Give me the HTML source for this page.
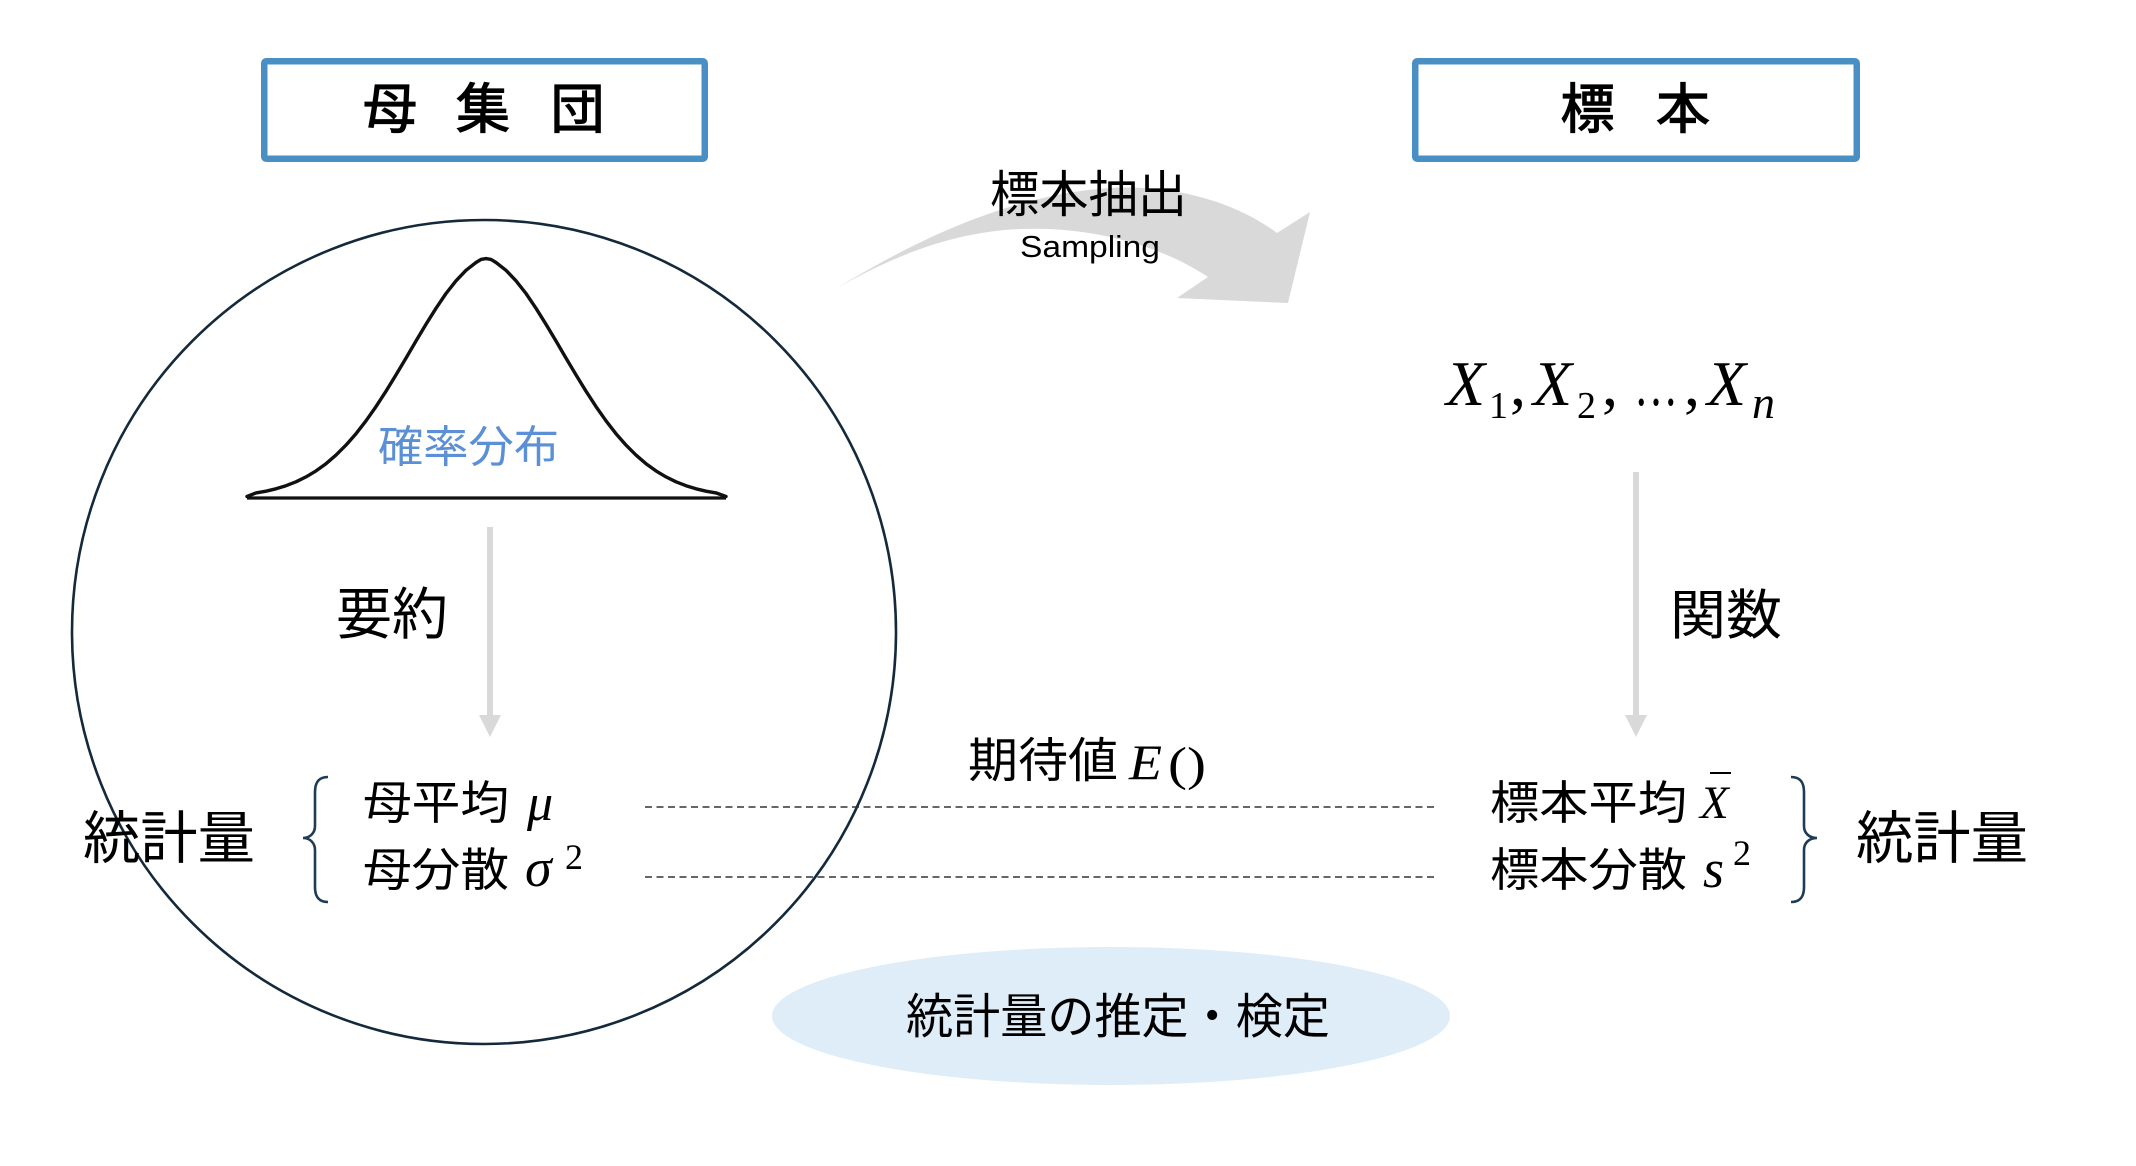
<!DOCTYPE html>
<html>
<head>
<meta charset="utf-8">
<style>
html,body{margin:0;padding:0;background:#fff;}
svg{display:block;}
.cjk{font-family:"Liberation Sans","Noto Sans CJK JP",sans-serif;fill:#000;}
.mi{font-family:"Liberation Serif","DejaVu Serif",serif;font-style:italic;fill:#000;}
.mr{font-family:"Liberation Serif","DejaVu Serif",serif;fill:#000;}
</style>
</head>
<body>
<svg width="2136" height="1166" viewBox="0 0 2136 1166" xmlns="http://www.w3.org/2000/svg">
  <rect x="0" y="0" width="2136" height="1166" fill="#fff"/>

  <!-- Title boxes -->
  <rect x="264.25" y="61.25" width="440.5" height="97.5" rx="2" fill="#fff" stroke="#4a8fc4" stroke-width="6.5"/>
  <rect x="1415.25" y="61.25" width="441.5" height="97.5" rx="2" fill="#fff" stroke="#4a8fc4" stroke-width="6.5"/>
  <g class="cjk" font-size="54" font-weight="normal" text-anchor="middle" stroke="#000" stroke-width="1.2">
    <text x="390" y="128">母</text>
    <text x="483" y="128">集</text>
    <text x="577.5" y="128">団</text>
    <text x="1587.5" y="128">標</text>
    <text x="1683" y="128">本</text>
  </g>

  <!-- Ellipse (bottom) -->
  <ellipse cx="1111" cy="1016" rx="339" ry="69" fill="#deedf7"/>

  <!-- Population circle -->
  <circle cx="484" cy="632" r="412" fill="none" stroke="#14293b" stroke-width="2.6"/>

  <!-- Bell curve -->
  <line x1="247" y1="498" x2="726" y2="498" stroke="#111" stroke-width="3.2"/>
  <path d="M247,496.5 L256,492.9 L266,491.2 L276,488.8 L286,485.7 L296,481.8 L306,476.9 L316,470.9 L326,463.7 L336,455.1 L346,445.1 L356,433.7 L366,420.8 L376,406.6 L386,391.2 L396,374.9 L406,358.1 L416,341 L426,324.3 L436,308.3 L446,293.5 L456,280.8 L466,270.3 L476,262.5 L481,259.4 L486,258.6 L491,259.4 L496,262.5 L506,270.3 L516,280.8 L526,293.5 L536,308.3 L546,324.3 L556,341 L566,358.1 L576,374.9 L586,391.2 L596,406.6 L606,420.8 L616,433.7 L626,445.1 L636,455.1 L646,463.7 L656,470.9 L666,476.9 L676,481.8 L686,485.7 L696,488.8 L706,491.2 L716,492.9 L726,496.5" fill="none" stroke="#111" stroke-width="3.4" stroke-linejoin="round" stroke-linecap="round"/>
  <text class="cjk" x="378" y="462" font-size="44" textLength="181" lengthAdjust="spacingAndGlyphs" style="fill:#5b8fd6">確率分布</text>

  <!-- Curved sampling arrow -->
  <path d="M837,288 C900,250 1000,195 1110,188 C1180,184 1240,205 1277,233 L1310,212 L1288,303 L1177,298 L1208,277 C1160,245 1090,226 1020,229 C950,232 890,258 837,288 Z" fill="#d9d9d9"/>
  <text class="cjk" x="990" y="212" font-size="50" textLength="197" lengthAdjust="spacingAndGlyphs">標本抽出</text>
  <text x="1020" y="257" font-family="'Liberation Sans',sans-serif" font-size="31" textLength="140" lengthAdjust="spacingAndGlyphs" fill="#000">Sampling</text>

  <!-- Vertical arrows -->
  <line x1="490" y1="527" x2="490" y2="717" stroke="#d9d9d9" stroke-width="6"/>
  <polygon points="479,715 501,715 490,737" fill="#d9d9d9"/>
  <line x1="1636" y1="472" x2="1636" y2="717" stroke="#d9d9d9" stroke-width="6"/>
  <polygon points="1625,715 1647,715 1636,737" fill="#d9d9d9"/>

  <text class="cjk" x="336" y="634" font-size="56" textLength="112" lengthAdjust="spacingAndGlyphs">要約</text>
  <text class="cjk" x="1670" y="634" font-size="54" textLength="112" lengthAdjust="spacingAndGlyphs">関数</text>

  <!-- X1, X2, ..., Xn -->
  <g>
    <text class="mi" x="1446" y="405" font-size="64">X</text>
    <text class="mr" x="1489" y="418" font-size="38">1</text>
    <text class="mr" x="1510" y="405" font-size="64">,</text>
    <text class="mi" x="1533" y="405" font-size="64">X</text>
    <text class="mr" x="1577" y="418" font-size="38">2</text>
    <text class="mr" x="1602" y="405" font-size="64">,</text>
    <text class="mr" x="1634" y="405" font-size="64" textLength="44" lengthAdjust="spacingAndGlyphs">…</text>
    <text class="mr" x="1684" y="405" font-size="64">,</text>
    <text class="mi" x="1707" y="405" font-size="64">X</text>
    <text class="mi" x="1752" y="418" font-size="46">n</text>
  </g>

  <!-- Left statistics -->
  <text class="cjk" x="83" y="858" font-size="57" textLength="172" lengthAdjust="spacingAndGlyphs">統計量</text>
  <path d="M328,777 C319,777 315,782 315,792 L315,826 C315,833 310,838 303,838 C310,838 315,843 315,850 L315,887 C315,897 319,902 328,902" fill="none" stroke="#1f3b56" stroke-width="2.6"/>
  <text class="cjk" x="363" y="819" font-size="46" textLength="146" lengthAdjust="spacingAndGlyphs">母平均</text>
  <text class="mi" x="527" y="820" font-size="52">μ</text>
  <text class="cjk" x="363" y="886" font-size="46" textLength="146" lengthAdjust="spacingAndGlyphs">母分散</text>
  <text class="mi" x="525" y="886" font-size="54">σ</text>
  <text class="mr" x="565" y="869" font-size="36">2</text>

  <!-- Dotted lines -->
  <line x1="645" y1="807" x2="1434" y2="807" stroke="#333" stroke-width="1.5" stroke-dasharray="7 4.5"/>
  <line x1="645" y1="877" x2="1434" y2="877" stroke="#333" stroke-width="1.5" stroke-dasharray="7 4.5"/>

  <!-- Expectation label -->
  <text class="cjk" x="968" y="777" font-size="48" textLength="150" lengthAdjust="spacingAndGlyphs">期待値</text>
  <text class="mi" x="1129" y="779" font-size="50" textLength="33" lengthAdjust="spacingAndGlyphs">E</text>
  <text class="mr" x="1168" y="780" font-size="48" textLength="38" lengthAdjust="spacingAndGlyphs">()</text>

  <!-- Right statistics -->
  <text class="cjk" x="1490" y="819" font-size="46" textLength="197" lengthAdjust="spacingAndGlyphs">標本平均</text>
  <text class="mi" x="1700" y="818" font-size="47">X</text>
  <line x1="1710" y1="773" x2="1731" y2="773" stroke="#000" stroke-width="2"/>
  <text class="cjk" x="1490" y="886" font-size="46" textLength="197" lengthAdjust="spacingAndGlyphs">標本分散</text>
  <text class="mi" x="1703" y="887" font-size="54">s</text>
  <text class="mr" x="1733" y="865" font-size="36">2</text>
  <path d="M1791,777 C1800,777 1804,782 1804,792 L1804,826 C1804,833 1809,838 1817,838 C1809,838 1804,843 1804,850 L1804,887 C1804,897 1800,902 1791,902" fill="none" stroke="#1f3b56" stroke-width="2.6"/>
  <text class="cjk" x="1856" y="858" font-size="57" textLength="172" lengthAdjust="spacingAndGlyphs">統計量</text>

  <!-- Ellipse label -->
  <text class="cjk" x="906" y="1033" font-size="48" textLength="424" lengthAdjust="spacingAndGlyphs">統計量の推定・検定</text>
</svg>
</body>
</html>
